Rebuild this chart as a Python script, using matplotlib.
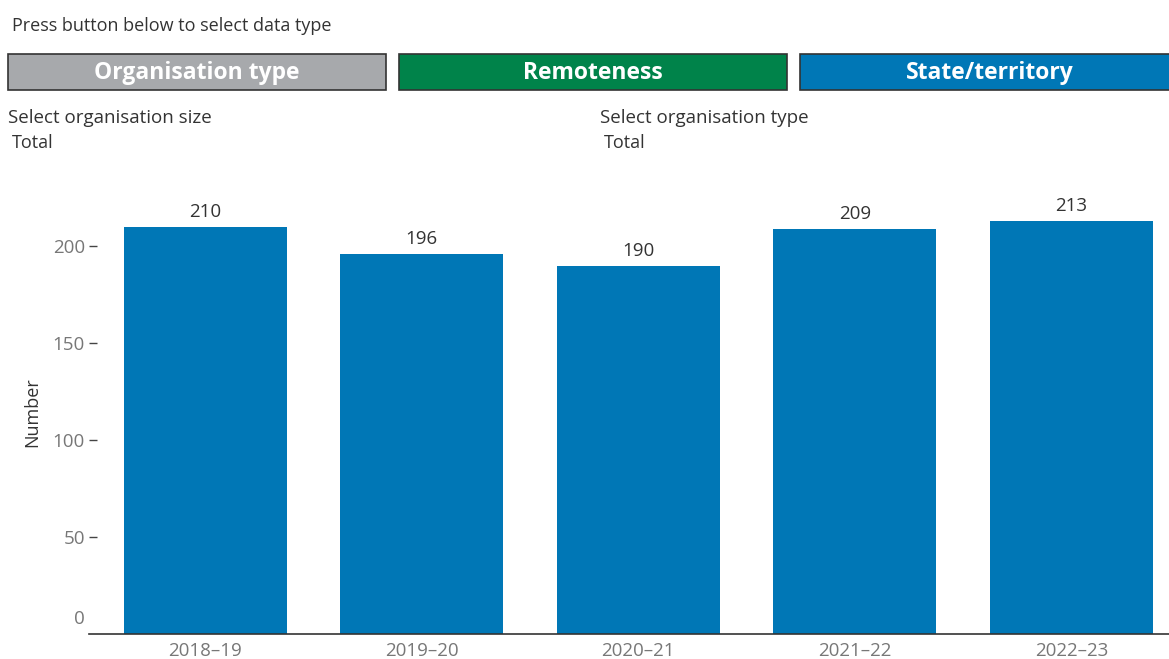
import matplotlib.pyplot as plt
from matplotlib.patches import Rectangle

years = ['2018–19', '2019–20', '2020–21', '2021–22', '2022–23']
counts = [210, 196, 190, 209, 213]
yticks = [50, 100, 150, 200]

buttons = ['Organisation type', 'Remoteness', 'State/territory']
button_colors = ['#A7A9AC', '#00834A', '#0077B6']

BAR = '#0077B6'
W, H = 1169, 659

plt.rcParams['font.family'] = ['Open Sans', 'DejaVu Sans']

fig = plt.figure(figsize=(W / 100, H / 100), dpi=100)


def px(x, y):
    # pixel coords (top-left origin) -> figure fraction
    return x / W, 1 - y / H


fig.text(*px(12, 26), 'Press button below to select data type',
         fontsize=13, color='#333333', va='center')

# selector buttons
for (x0, x1, cx), label, col in zip([(8, 386, 197), (399, 787, 593), (800, 1175, 990)],
                                    buttons, button_colors):
    fx0, fy1 = px(x0, 54)
    fx1, fy0 = px(x1, 90)
    fig.patches.append(Rectangle((fx0, fy0), fx1 - fx0, fy1 - fy0, transform=fig.transFigure,
                                 facecolor=col, edgecolor='#333333', linewidth=1.2))
    fig.text(*px(cx, 73), label, fontsize=16.5, fontweight='bold',
             color='white', ha='center', va='center')

fig.text(*px(8, 118), 'Select organisation size', fontsize=13.5, color='#333333', va='center')
fig.text(*px(12, 143), 'Total', fontsize=13, color='#333333', va='center')
fig.text(*px(600, 118), 'Select organisation type', fontsize=13.5, color='#333333', va='center')
fig.text(*px(604, 143), 'Total', fontsize=13, color='#333333', va='center')

ax = fig.add_axes([89 / W, 1 - 634 / H, 1 - 89 / W, (634 - 190) / H])
x = range(len(years))
bars = ax.bar(x, counts, width=0.753, color=BAR)
for b, v in zip(bars, counts):
    ax.annotate(str(v), (b.get_x() + b.get_width() / 2, v), xytext=(0, 4),
                textcoords='offset points', ha='center', va='bottom',
                fontsize=13.5, color='#333333')

ax.set_xlim(-0.536, 4.45)
ax.set_ylim(0, 229)
ax.set_xticks(list(x))
ax.set_xticklabels(years)
ax.set_yticks(yticks)
ax.tick_params(axis='x', length=0, labelsize=13.5, labelcolor='#777777', pad=6)
ax.tick_params(axis='y', direction='in', length=6, width=1, color='#444444', labelsize=13.5,
               labelcolor='#777777', pad=3)
ax.text(-0.004, 0.034, '0', transform=ax.transAxes, ha='right', va='center',
        fontsize=13.5, color='#777777')
for s in ['top', 'right', 'left']:
    ax.spines[s].set_visible(False)
ax.spines['bottom'].set_color('#333333')
ax.spines['bottom'].set_linewidth(1.2)
ax.set_ylabel('Number', fontsize=13, color='#333333', labelpad=8)

fig.savefig('out.png', dpi=100)
